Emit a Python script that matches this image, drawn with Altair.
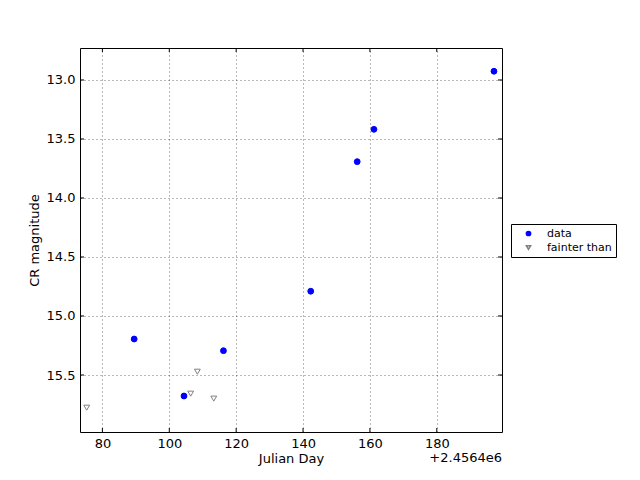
import altair as alt
import pandas as pd

# data (x offset by 2.4564e6)
data_day = [89.5, 104.4, 116.2, 142.3, 156.2, 161.2, 197.1]
data_mag = [15.195, 15.678, 15.294, 14.79, 13.692, 13.418, 12.926]
faint_day = [75.3, 106.4, 108.4, 113.3]
faint_mag = [15.777, 15.658, 15.472, 15.70]
x_ticks = [80, 100, 120, 140, 160, 180]
y_ticks = [13.0, 13.5, 14.0, 14.5, 15.0, 15.5]

df = pd.DataFrame({
    "day": data_day + faint_day,
    "mag": data_mag + faint_mag,
    "kind": ["data"] * len(data_day) + ["fainter than"] * len(faint_day),
})

W, H = 422, 384
xs = alt.Scale(domain=[73.3, 199.5], nice=False, zero=False)
ys = alt.Scale(domain=[12.729, 15.983], nice=False, zero=False, reverse=True)

leg = dict(title=None, orient="none", legendX=431, legendY=176,
           strokeColor="black", padding=4, fillColor="white",
           labelFontSize=11, labelFont="DejaVu Sans", symbolSize=18,
           rowPadding=2, labelOffset=13, symbolOffset=8, labelColor="black")

base = alt.Chart(df)
points = base.mark_point(size=34, opacity=1, strokeWidth=1).encode(
    x=alt.X("day:Q", scale=xs, title="Julian Day",
            axis=alt.Axis(values=x_ticks, format="d", grid=True)),
    y=alt.Y("mag:Q", scale=ys, title="CR magnitude",
            axis=alt.Axis(values=y_ticks, format=".1f", grid=True)),
    shape=alt.Shape("kind:N", scale=alt.Scale(domain=["data", "fainter than"], range=["circle", "triangle-down"]),
                    legend=alt.Legend(**leg)),
    fill=alt.Fill("kind:N", scale=alt.Scale(domain=["data", "fainter than"], range=["blue", "white"]),
                  legend=alt.Legend(**leg)),
    stroke=alt.Stroke("kind:N", scale=alt.Scale(domain=["data", "fainter than"], range=["blue", "gray"]),
                      legend=alt.Legend(**leg)),
)

xt = pd.DataFrame({"v": x_ticks})
yt = pd.DataFrame({"v": y_ticks})
tick_bottom = alt.Chart(xt).mark_rule(color="black").encode(
    x=alt.X("v:Q", scale=xs), y=alt.value(H), y2=alt.value(H - 4))
tick_top = alt.Chart(xt).mark_rule(color="black").encode(
    x=alt.X("v:Q", scale=xs), y=alt.value(0), y2=alt.value(4))
tick_left = alt.Chart(yt).mark_rule(color="black").encode(
    y=alt.Y("v:Q", scale=ys), x=alt.value(0), x2=alt.value(4))
tick_right = alt.Chart(yt).mark_rule(color="black").encode(
    y=alt.Y("v:Q", scale=ys), x=alt.value(W), x2=alt.value(W - 4))

offset = alt.Chart(pd.DataFrame({"t": ["+2.4564e6"]})).mark_text(
    align="right", baseline="top", fontSize=13, font="DejaVu Sans", color="black"
).encode(x=alt.value(W), y=alt.value(H + 20), text="t:N")

chart = alt.layer(points, tick_bottom, tick_top, tick_left, tick_right, offset).properties(
    width=W, height=H,
    autosize=alt.AutoSizeParams(type="none"),
    padding={"left": 72, "top": 40, "right": 130, "bottom": 40},
    background="white",
).configure_view(stroke="black", strokeWidth=1).configure_axis(
    domain=False, ticks=False, labelFont="DejaVu Sans", labelFontSize=13, labelColor="black",
    titleFont="DejaVu Sans", titleFontSize=13, titleFontWeight="normal", titleColor="black",
    gridColor="black", gridDash=[1, 3], gridOpacity=0.7, gridWidth=0.8, labelPadding=5,
).configure_axisX(titlePadding=2).configure_axisY(titlePadding=5)

chart.save("out.html", embed_options={"renderer": "svg", "actions": False})
